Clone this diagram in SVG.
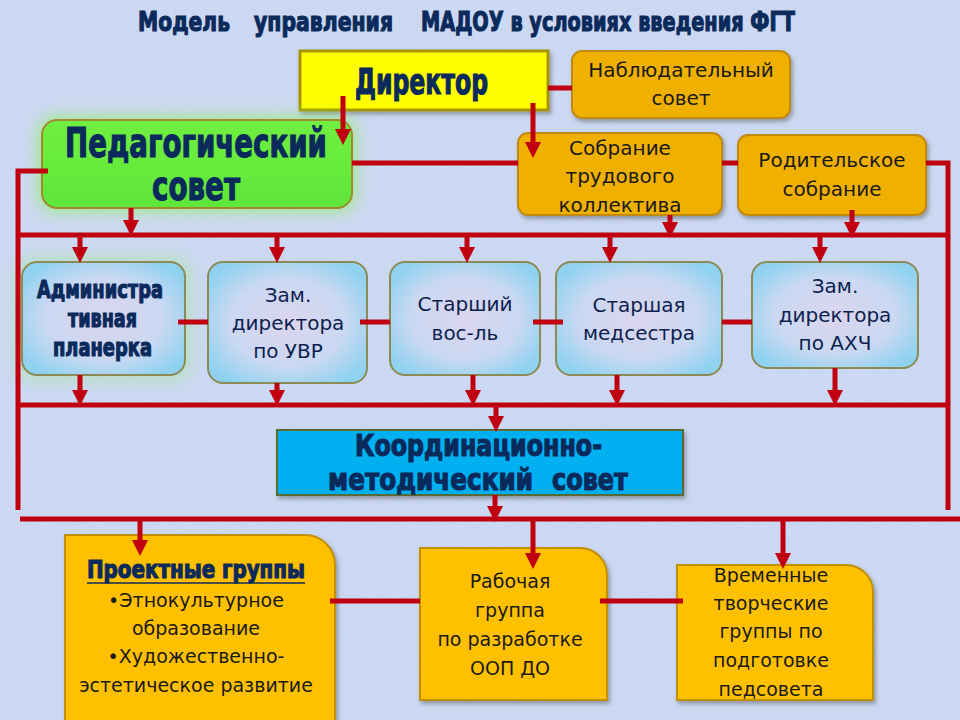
<svg xmlns="http://www.w3.org/2000/svg" xmlns:xlink="http://www.w3.org/1999/xlink" width="960" height="720" viewBox="0 0 960 720">
<defs>
<style>
.hd{font-family:"DejaVu Sans","Liberation Sans",sans-serif;font-stretch:condensed;font-weight:bold;fill:#0b2a5c;stroke:#0b2a5c;stroke-width:1.1}
.tx{font-family:"DejaVu Sans","Open Sans",sans-serif;fill:#1a1a1a;text-anchor:middle;font-size:20px}
.tb{font-family:"DejaVu Sans","Open Sans",sans-serif;fill:#1a1a1a;text-anchor:middle;font-size:19px}
.bl{font-family:"DejaVu Sans","Open Sans",sans-serif;fill:#0d1f4f;text-anchor:middle;font-size:20px}
.ln{stroke:#c00010;stroke-width:5;fill:none}
.gold{fill:#f0b000;stroke:#c08a10;stroke-width:2}
.ygold{fill:#ffc000;stroke:#c09000;stroke-width:2}
.row{fill:url(#rg);stroke:#8c8a55;stroke-width:2}
</style>
<radialGradient id="rg" cx="50%" cy="50%" r="60%">
<stop offset="0" stop-color="#dcd5ee"/>
<stop offset="0.6" stop-color="#cad8f2"/>
<stop offset="1" stop-color="#8fd2f0"/>
</radialGradient>
<linearGradient id="gg" x1="0" y1="0" x2="0" y2="1">
<stop offset="0" stop-color="#70f040"/>
<stop offset="1" stop-color="#5ee63a"/>
</linearGradient>
<filter id="sh" x="-10%" y="-10%" width="125%" height="130%">
<feDropShadow dx="2" dy="3" stdDeviation="2" flood-color="#555" flood-opacity="0.5"/>
</filter>
<filter id="glowG" x="-20%" y="-30%" width="140%" height="160%">
<feGaussianBlur stdDeviation="8"/>
</filter>
<filter id="tex" x="0" y="0" width="100%" height="100%">
<feTurbulence type="fractalNoise" baseFrequency="0.35" numOctaves="2" seed="3"/>
<feColorMatrix type="matrix" values="0 0 0 0 0.85  0 0 0 0 0.7  0 0 0 0 0.9  0 0 0 0.35 -0.05"/>
</filter>
<path id="arr" d="M-8,-16 L8,-16 L0,0 z" fill="#c00010"/>
</defs>

<rect width="960" height="720" fill="#c7d8f2"/>
<rect width="960" height="720" filter="url(#tex)"/>

<g id="title">
<text x="138" y="31" class="hd" font-size="27" textLength="92" lengthAdjust="spacingAndGlyphs">Модель</text>
<text x="254" y="31" class="hd" font-size="27" textLength="139" lengthAdjust="spacingAndGlyphs">управления</text>
<text x="421" y="31" class="hd" font-size="27" textLength="374" lengthAdjust="spacingAndGlyphs">МАДОУ в условиях введения ФГТ</text>
</g>

<g id="director">
<rect x="300" y="51" width="248" height="59" fill="#ffff00" stroke="#a89400" stroke-width="3" filter="url(#sh)"/>
<text x="355" y="94" class="hd" font-size="36" textLength="133" lengthAdjust="spacingAndGlyphs">Директор</text>
</g>

<g id="nabl">
<rect x="572" y="51" width="218" height="67" rx="10" class="gold" filter="url(#sh)"/>
<text x="681" y="77" class="tx">Наблюдательный</text>
<text x="681" y="105" class="tx">совет</text>
</g>

<g id="pedsovet">
<rect x="38" y="116" width="318" height="96" rx="18" fill="#8ef060" opacity="0.7" filter="url(#glowG)"/>
<rect x="42" y="120" width="310" height="88" rx="15" fill="url(#gg)" stroke="#a08a30" stroke-width="2"/>
<text x="65" y="157" class="hd" font-size="40" textLength="262" lengthAdjust="spacingAndGlyphs">Педагогический</text>
<text x="152" y="200" class="hd" font-size="40" textLength="88" lengthAdjust="spacingAndGlyphs">совет</text>
</g>

<g id="sobranie">
<rect x="518" y="133" width="204" height="82" rx="10" class="gold" filter="url(#sh)"/>
<text x="620" y="155" class="tx">Собрание</text>
<text x="620" y="183" class="tx">трудового</text>
<text x="620" y="212" class="tx">коллектива</text>
</g>

<g id="roditel">
<rect x="738" y="135" width="188" height="80" rx="10" class="gold" filter="url(#sh)"/>
<text x="832" y="167" class="tx">Родительское</text>
<text x="832" y="196" class="tx">собрание</text>
</g>

<g id="planerka">
<rect x="16" y="256" width="175" height="125" rx="18" fill="#a8e6a0" opacity="0.6" filter="url(#glowG)"/>
<rect x="22" y="262" width="163" height="113" rx="15" class="row"/>
<text x="37" y="298" class="hd" font-size="24" textLength="126" lengthAdjust="spacingAndGlyphs">Администра</text>
<text x="68" y="327" class="hd" font-size="24" textLength="69" lengthAdjust="spacingAndGlyphs">тивная</text>
<text x="53" y="356" class="hd" font-size="24" textLength="99" lengthAdjust="spacingAndGlyphs">планерка</text>
</g>

<g id="zamuvr">
<rect x="208" y="262" width="159" height="121" rx="15" class="row"/>
<text x="288" y="302" class="bl">Зам.</text>
<text x="288" y="330" class="bl">директора</text>
<text x="288" y="358" class="bl">по УВР</text>
</g>

<g id="starvos">
<rect x="390" y="262" width="150" height="113" rx="15" class="row"/>
<text x="465" y="311" class="bl">Старший</text>
<text x="465" y="340" class="bl">вос-ль</text>
</g>

<g id="medsestra">
<rect x="556" y="262" width="166" height="113" rx="15" class="row"/>
<text x="639" y="312" class="bl">Старшая</text>
<text x="639" y="340" class="bl">медсестра</text>
</g>

<g id="zamahch">
<rect x="752" y="262" width="166" height="106" rx="15" class="row"/>
<text x="835" y="293" class="bl">Зам.</text>
<text x="835" y="322" class="bl">директора</text>
<text x="835" y="350" class="bl">по АХЧ</text>
</g>

<g id="koord">
<rect x="277" y="430" width="406" height="65" fill="#00b0f0" stroke="#5a6a30" stroke-width="2" filter="url(#sh)"/>
<text x="355" y="456" class="hd" font-size="30" textLength="247" lengthAdjust="spacingAndGlyphs">Координационно-</text>
<text x="328" y="490" class="hd" font-size="30" textLength="205" lengthAdjust="spacingAndGlyphs">методический</text>
<text x="552" y="490" class="hd" font-size="30" textLength="76" lengthAdjust="spacingAndGlyphs">совет</text>
</g>

<g id="proekt">
<path d="M65,535 H305 A30,30 0 0 1 335,565 V722 H65 Z" class="ygold" filter="url(#sh)"/>
<text x="87" y="578" class="hd" font-size="24" textLength="218" lengthAdjust="spacingAndGlyphs">Проектные группы</text>
<line x1="87" y1="583" x2="305" y2="583" stroke="#0b2a5c" stroke-width="1.5"/>
<text x="196" y="607" class="tb">•Этнокультурное</text>
<text x="196" y="635" class="tb">образование</text>
<text x="196" y="663" class="tb">•Художественно-</text>
<text x="196" y="692" class="tb">эстетическое развитие</text>
</g>

<g id="rabochaya">
<path d="M420,548 H580 A27,27 0 0 1 607,575 V700 H420 Z" class="ygold" filter="url(#sh)"/>
<text x="510" y="588" class="tb">Рабочая</text>
<text x="510" y="617" class="tb">группа</text>
<text x="510" y="646" class="tb">по разработке</text>
<text x="510" y="675" class="tb">ООП ДО</text>
</g>

<g id="vremennye">
<path d="M677,565 H846 A27,27 0 0 1 873,592 V700 H677 Z" class="ygold" filter="url(#sh)"/>
<text x="771" y="582" class="tb">Временные</text>
<text x="771" y="610" class="tb">творческие</text>
<text x="771" y="638" class="tb">группы по</text>
<text x="771" y="667" class="tb">подготовке</text>
<text x="771" y="696" class="tb">педсовета</text>
</g>

<g id="connectors">
<path class="ln" d="M548,88 H572"/>
<path class="ln" d="M352,163 H518"/>
<path class="ln" d="M722,163 H738"/>
<path class="ln" d="M926,163 H948 V510"/>
<path class="ln" d="M48,171 H18 V510"/>
<path class="ln" d="M18,235 H950"/>
<path class="ln" d="M18,405 H950"/>
<path class="ln" d="M20,519 H960"/>
<path class="ln" d="M178,322 H208 M360,322 H390 M533,322 H563 M722,322 H752"/>
<path class="ln" d="M330,601 H420 M600,601 H683"/>
<path class="ln" d="M343,96 V132 M533,103 V145 M131,208 V222 M670,215 V224 M852,210 V224 M80,235 V249 M277,235 V249 M467,235 V249 M610,235 V249 M820,235 V249 M80,375 V392 M277,383 V392 M473,375 V392 M617,375 V392 M835,368 V392 M496,405 V419 M495,495 V509 M140,519 V542 M533,519 V555 M783,519 V555"/>
<use xlink:href="#arr" x="343" y="145"/>
<use xlink:href="#arr" x="533" y="158"/>
<use xlink:href="#arr" x="131" y="236"/>
<use xlink:href="#arr" x="670" y="238"/>
<use xlink:href="#arr" x="852" y="238"/>
<use xlink:href="#arr" x="80" y="263"/>
<use xlink:href="#arr" x="277" y="263"/>
<use xlink:href="#arr" x="467" y="263"/>
<use xlink:href="#arr" x="610" y="263"/>
<use xlink:href="#arr" x="820" y="263"/>
<use xlink:href="#arr" x="80" y="406"/>
<use xlink:href="#arr" x="277" y="406"/>
<use xlink:href="#arr" x="473" y="406"/>
<use xlink:href="#arr" x="617" y="406"/>
<use xlink:href="#arr" x="835" y="406"/>
<use xlink:href="#arr" x="496" y="432"/>
<use xlink:href="#arr" x="495" y="522"/>
<use xlink:href="#arr" x="140" y="556"/>
<use xlink:href="#arr" x="533" y="569"/>
<use xlink:href="#arr" x="783" y="569"/>
</g>
</svg>
